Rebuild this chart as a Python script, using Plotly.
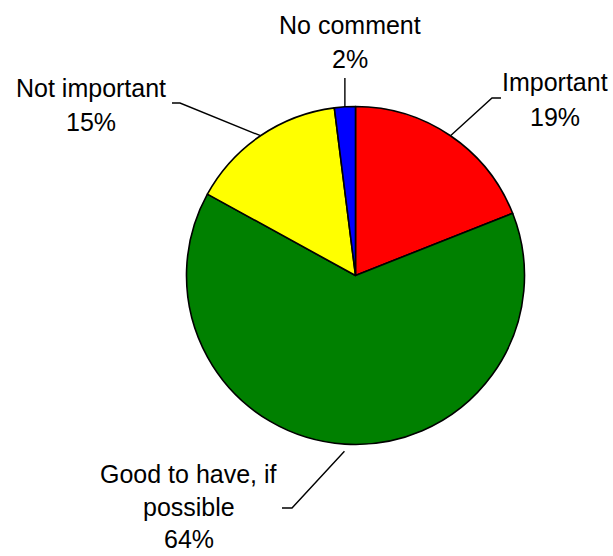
import math
import plotly.graph_objects as go

# ---- data ----
categories = ["Important", "Good to have, if possible", "Not important", "No comment"]
values = [19, 64, 15, 2]
colors = ["#FF0000", "#008000", "#FFFF00", "#0000FF"]
label_lines = [
    ["Important", "19%"],
    ["Good to have, if", "possible", "64%"],
    ["Not important", "15%"],
    ["No comment", "2%"],
]

# ---- layout (pixels) ----
W, H = 613, 556
CX, CY, R = 355.5, 275.5, 169.0
FONT = dict(family="Arial, Liberation Sans, sans-serif", size=25, color="black")
# per label: text centre x, first line centre y, line gap, leader elbow, leader end
label_pos = [
    dict(x=555, y=82, gap=34.5, elbow=(492, 98), end=(501, 98), start_off=0),
    dict(x=189, y=474, gap=32.5, elbow=(292, 508), end=(282, 508), start_off=7),
    dict(x=91, y=88, gap=34.5, elbow=(180, 103), end=(172, 103), start_off=0),
    dict(x=350, y=25, gap=33.5, elbow=None, end=(None, 78), start_off=0),
]


def px(x):
    return x / W


def py(y):
    return 1 - y / H


fig = go.Figure(
    go.Pie(
        labels=categories,
        values=values,
        marker=dict(colors=colors, line=dict(color="black", width=1.6)),
        sort=False,
        direction="clockwise",
        rotation=0,
        textinfo="none",
        hoverinfo="label+percent",
        showlegend=False,
        domain=dict(x=[px(CX - R), px(CX + R)], y=[py(CY + R), py(CY - R)]),
    )
)

total = sum(values)
cum = 0.0
annotations = []
shapes = []
for v, lines, pos in zip(values, label_lines, label_pos):
    theta = 2 * math.pi * (cum + v / 2) / total
    cum += v
    r0 = R + pos["start_off"]
    sx = CX + r0 * math.sin(theta)
    sy = CY - r0 * math.cos(theta)
    ex, ey = pos["end"]
    if ex is None:
        ex = sx
    pts = [(sx, sy)]
    if pos["elbow"] is not None:
        pts.append(pos["elbow"])
    pts.append((ex, ey))
    path = "M " + " L ".join(f"{px(a):.5f} {py(b):.5f}" for a, b in pts)
    shapes.append(dict(type="path", xref="paper", yref="paper", path=path,
                       line=dict(color="black", width=1.4)))
    for i, t in enumerate(lines):
        annotations.append(dict(
            text=t, x=px(pos["x"]), y=py(pos["y"] + i * pos["gap"]),
            xref="paper", yref="paper", xanchor="center", yanchor="middle",
            showarrow=False, font=FONT,
        ))

fig.update_layout(
    width=W, height=H,
    margin=dict(l=0, r=0, t=0, b=0),
    paper_bgcolor="white", plot_bgcolor="white",
    annotations=annotations, shapes=shapes,
)

fig.write_html(
    "out.html",
    config={"displayModeBar": False},
    post_script="document.body.style.margin='0';document.body.style.overflow='hidden';",
)
